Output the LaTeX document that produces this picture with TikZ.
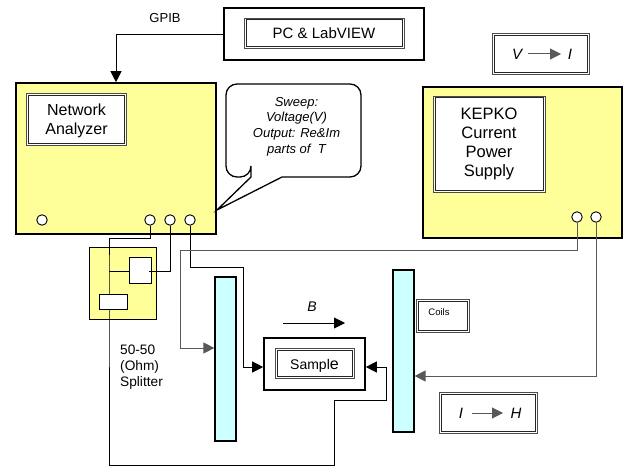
\documentclass[tikz,border=0pt]{standalone}
\usepackage{fontspec}
\setmainfont{Liberation Sans}
\usetikzlibrary{arrows.meta}
\definecolor{panelyellow}{HTML}{FFFF99}
\definecolor{coilcyan}{HTML}{CCFFFF}
\tikzset{
    outerbox/.style={draw,line width=1.6pt,inner sep=0pt,fill=#1},
    outerbox/.default=white,
    framebox/.style={draw=black!70,line width=0.8pt,inner sep=0pt,fill=white,align=center,
        path picture={\draw[black!85,line width=0.6pt]
            ([shift={(1.8pt,-1.8pt)}]path picture bounding box.north west) rectangle ([shift={(-1.8pt,1.8pt)}]path picture bounding box.south east);}},
    port/.style={draw,circle,fill=white,line width=0.9pt,minimum size=10.5pt,inner sep=0pt},
    wire/.style={line width=0.9pt},
    greywire/.style={line width=1pt,draw=black!65},
    tip/.style={-{Triangle[length=11pt,width=11pt]}},
    textlabel/.style={inner sep=0pt,align=center,font=\fontsize{#1}{18.7}\selectfont},
    textlabel/.default=15,
    italiclabel/.style={inner sep=0pt,align=center,font=\fontsize{#1}{15.7}\selectfont\itshape},
    italiclabel/.default=14
}
\begin{document}
\begin{tikzpicture}[x=1pt,y=-1pt]
        \useasboundingbox (0,0) rectangle (631,468);
        \node[outerbox,minimum width=200pt,minimum height=52pt] (pc) at (324,34) {};
        \node[framebox,minimum width=160pt,minimum height=30pt,font=\fontsize{15}{18}\selectfont] (pctext) at (324,33) {PC \& LabVIEW};
        \node[textlabel=13] (gpib) at (165,18) {GPIB};

        \node[outerbox=panelyellow,minimum width=200pt,minimum height=151pt] (na) at (116,158.5) {};
        \node[framebox,minimum width=100pt,minimum height=52pt] (naframe) at (76.5,119.5) {};
        \node[textlabel=16] (natext) at (76.5,121) {Network\\Analyzer};
        \node[port] (naleft) at (42,220) {};
        \foreach \n/\x in {1/150,2/170,3/190}
            \node[port] (na\n) at (\x,220) {};

        \node[outerbox=panelyellow,minimum width=199pt,minimum height=151pt] (ps) at (522.5,162.5) {};
        \node[framebox,minimum width=112pt,minimum height=96pt,textlabel=16.5] (pstext) at (489,144) {KEPKO\\Current\\Power\\Supply};
        \node[port] (ps1) at (577,217) {};
        \node[port] (ps2) at (596,217) {};

        \node[framebox,minimum width=97pt,minimum height=41pt] (vibox) at (541,54) {};
        \node[italiclabel=15] (v) at (517,54) {V};
        \node[italiclabel=15] (i) at (570,54) {I};
        \draw[greywire,tip] (528,54) -- (561,54);

        \node[framebox,minimum width=98pt,minimum height=41pt] (ihbox) at (488.5,412.5) {};
        \node[italiclabel=15] (ii) at (461,413) {I};
        \node[italiclabel=15] (h) at (516,413) {H};
        \draw[greywire,tip] (472,413) -- (503,413);

        \draw[rounded corners=10pt,line width=1.3pt,fill=white] (251,177) [sharp corners] -- (217,210) -- (282,177)
            [rounded corners=11pt] -- (361,177) -- (361,84) -- (226,84) -- (226,177) -- (251,177) [sharp corners] -- cycle;
        \node[italiclabel=13] (sweep) at (296.5,126.5) {Sweep:\\Voltage(V)\\Output: Re\&Im\\parts of\ \ T};

        \node[draw,fill=panelyellow,line width=0.8pt,minimum width=67pt,minimum height=72pt,inner sep=0pt] (split) at (122.5,283) {};
        \node[draw,fill=white,line width=0.8pt,minimum width=22pt,minimum height=26pt,inner sep=0pt] (splitsq) at (140,270) {};

        \coordinate (naturn) at (109,238);
        \coordinate (branch) at (109,271);
        \coordinate (sqend) at (149,271);
        \coordinate (bottom) at (334,465);
        \coordinate (riser) at (386,400);
        \coordinate (rtn) at (386,367);
        \coordinate (drop) at (243,267);
        \coordinate (feed) at (243,367);
        \coordinate (psline) at (180,250);
        \coordinate (coilin) at (180,348);
        \coordinate (coilinr) at (596,376);

        \node[draw,fill=coilcyan,line width=1.2pt,minimum width=21pt,minimum height=164pt,inner sep=0pt] (coilL) at (225.5,359) {};
        \node[draw,fill=coilcyan,line width=1.2pt,minimum width=21pt,minimum height=162pt,inner sep=0pt] (coilR) at (403.5,351) {};
        \node[framebox,minimum width=53pt,minimum height=33pt] (coils) at (442.5,315.5) {};
        \node[inner sep=0pt,font=\fontsize{9.5}{11}\selectfont] (coilstext) at (439,312) {Coils};

        \node[outerbox,minimum width=101pt,minimum height=52pt] (sample) at (314.5,364) {};
        \node[framebox,minimum width=79pt,minimum height=30pt] (sampleframe) at (314.5,363) {};
        \node[inner sep=0pt,font=\fontsize{14}{16}\selectfont] (sampletext) at (314.5,366) {Sampl{\fontsize{16}{16}\selectfont e}};

        \draw[wire] (na1.south) -- (na1.south |- naturn) -- (naturn) -- (branch) -- (branch |- bottom) -- (bottom) -- (bottom |- riser) -- (riser) -- (rtn);
        \draw[wire,tip] (rtn) -- (sample.east |- rtn);
        \draw[wire] (branch) -- (splitsq.west |- branch);
        \draw[wire] (na2.south) -- (na2.south |- sqend) -- (sqend);
        \draw[wire,tip] (na3.south) -- (na3.south |- drop) -- (drop) -- (feed) -- (sample.west |- feed);
        \draw[greywire,tip] (ps1.south) -- (ps1.south |- psline) -- (psline) -- (coilin) -- (coilL.west |- coilin);
        \draw[greywire,tip] (ps2.south) -- (coilinr) -- (coilR.east |- coilinr);

        \node[draw,fill=white,line width=0.8pt,minimum width=28pt,minimum height=15pt,inner sep=0pt] (splitrect) at (113,301.5) {};

        \node[italiclabel=14] (b) at (312,307) {B};
        \draw[wire,tip] (283,323) -- (345,323);
        \node[inner sep=0pt,align=left,font=\fontsize{13.7}{15.7}\selectfont,anchor=north west] (splitlabel) at (120,345) {50-50\\(Ohm)\\Splitter};

        \draw[wire,tip] (pc.west) -| (na.north -| 116,83);
\end{tikzpicture}
\end{document}
